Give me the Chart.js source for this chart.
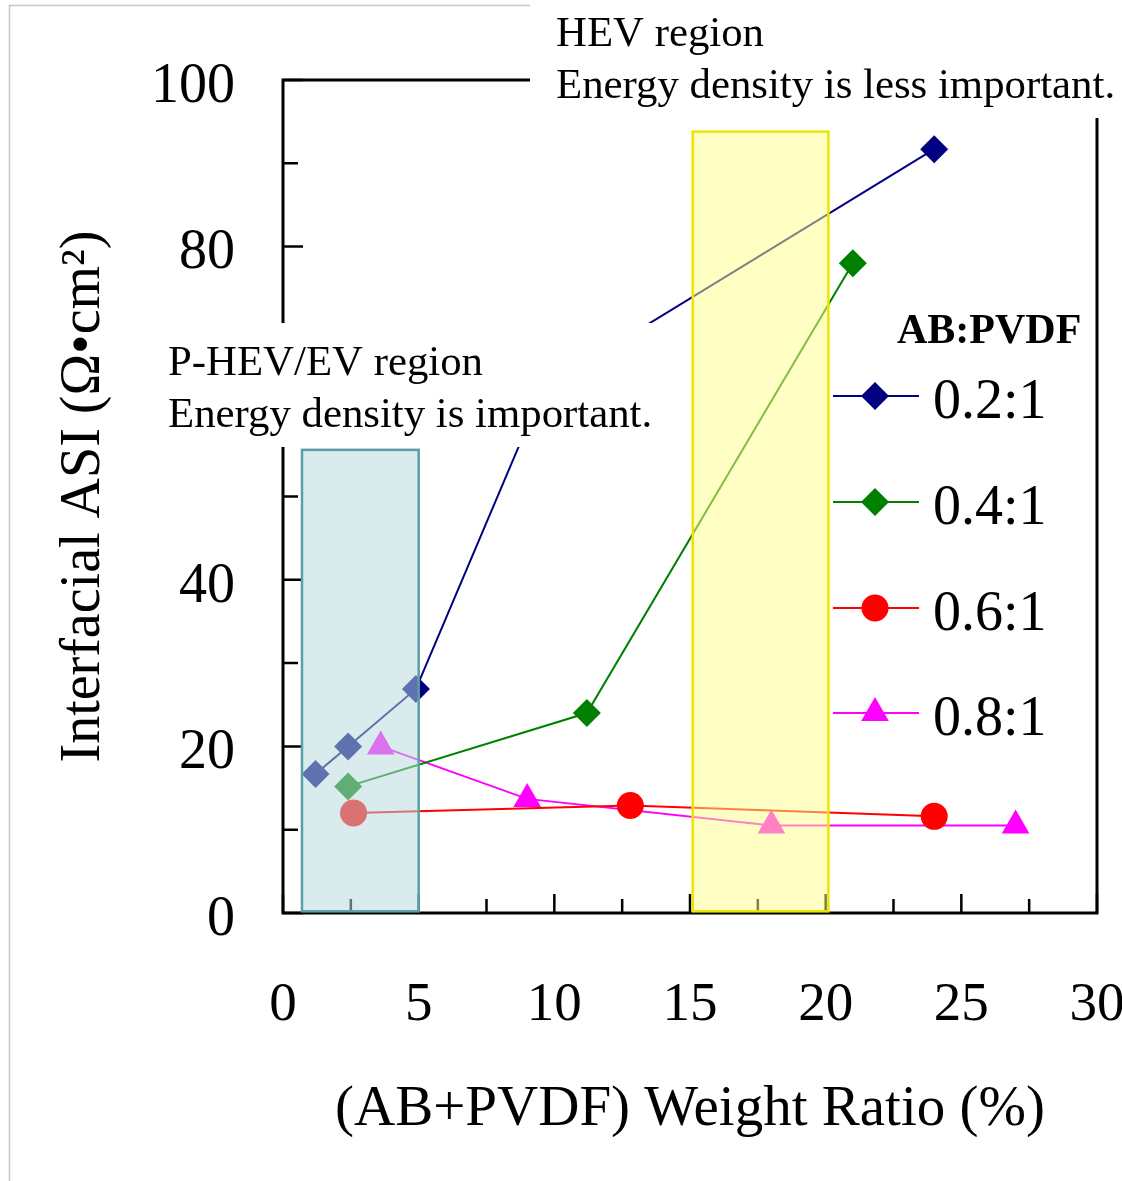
<!DOCTYPE html>
<html>
<head>
<meta charset="utf-8">
<script src="https://cdn.jsdelivr.net/npm/chart.js@4.4.0/dist/chart.umd.min.js"></script>
<style>
  html, body { margin: 0; padding: 0; background: #fff; }
  canvas { display: block; }
</style>
</head>
<body>
<canvas id="asiChart" width="1122" height="1181"></canvas>
<script>
// AB:PVDF series, x = (AB+PVDF) weight ratio %, y = interfacial ASI
const seriesLabels = ['0.2:1', '0.4:1', '0.6:1', '0.8:1'];
const ratio02X = [1.2, 2.4, 4.9, 9.6, 24.0];
const ratio02Y = [16.7, 20.0, 26.9, 63.0, 91.7];
const ratio04X = [2.4, 11.2, 21.0];
const ratio04Y = [15.2, 24.0, 78.0];
const ratio06X = [2.6, 12.8, 24.0];
const ratio06Y = [12.0, 12.9, 11.6];
const ratio08X = [3.6, 9.0, 18.0, 27.0];
const ratio08Y = [20.0, 13.7, 10.5, 10.5];

const xTicks = [0, 5, 10, 15, 20, 25, 30];
const xMinorTicks = [2.5, 7.5, 12.5, 17.5, 22.5, 27.5];
const yTicks = [0, 20, 40, 60, 80, 100];
const yMinorTicks = [10, 30, 50, 70, 90];

// shaded regions (data units)
const phevRangeX = [0.7, 5.0];
const phevTopY = 55.6;
const hevRangeX = [15.1, 20.1];
const hevTopY = 93.8;
const regionBottomY = 0.2;

const legendTitle = 'AB:PVDF';
const notes = [
    { lines: ['HEV region', 'Energy density is less important.'], box: [530, 0, 592, 118], x: 556, baselines: [46, 98] },
    { lines: ['P-HEV/EV region', 'Energy density is important.'], box: [160, 323, 500, 124], x: 168, baselines: [375, 427] }
];
const legendRowY = [396, 502, 608, 713];

const SERIF = '"Liberation Serif", "Times New Roman", serif';
Chart.defaults.font.family = SERIF;
Chart.defaults.color = '#000';

const toPoints = (xs, ys) => xs.map((x, i) => ({ x: x, y: ys[i] }));

function makeSeries(label, xs, ys, color, style, radius) {
    return {
        label: label,
        data: toPoints(xs, ys),
        showLine: true,
        borderColor: color,
        backgroundColor: color,
        borderWidth: 2,
        pointStyle: style,
        pointRadius: radius,
        pointHoverRadius: radius,
        pointBorderWidth: 0,
        clip: false
    };
}

function drawRegion(ctx, x, y, range, top, fill, stroke) {
    const left = x.getPixelForValue(range[0]);
    const right = x.getPixelForValue(range[1]);
    const t = y.getPixelForValue(top);
    const b = y.getPixelForValue(regionBottomY);
    ctx.save();
    ctx.fillStyle = fill;
    ctx.fillRect(left, t, right - left, b - t);
    ctx.strokeStyle = stroke;
    ctx.lineWidth = 2.5;
    ctx.strokeRect(left, t, right - left, b - t);
    ctx.restore();
}

// tick label padding would otherwise be added to the side margins
function noSidePadding(s) {
    s.paddingLeft = 0;
    s.paddingRight = 0;
    s.paddingTop = 0;
    s.paddingBottom = 0;
}

const frameAndTicks = {
    id: 'frameAndTicks',
    beforeDatasetsDraw(chart) {
        const { ctx, chartArea: a, scales: { x, y } } = chart;
        ctx.save();
        // thin gray page border
        ctx.strokeStyle = '#c8c8c8';
        ctx.lineWidth = 1.5;
        ctx.beginPath();
        ctx.moveTo(9.5, 1181);
        ctx.lineTo(9.5, 5.5);
        ctx.lineTo(540, 5.5);
        ctx.stroke();

        ctx.strokeStyle = '#000';
        ctx.lineWidth = 3;
        ctx.strokeRect(a.left, a.top, a.right - a.left, a.bottom - a.top);

        ctx.lineWidth = 2.5;
        ctx.beginPath();
        xTicks.forEach(v => {
            const px = x.getPixelForValue(v);
            ctx.moveTo(px, a.bottom);
            ctx.lineTo(px, a.bottom - 19);
        });
        xMinorTicks.forEach(v => {
            const px = x.getPixelForValue(v);
            ctx.moveTo(px, a.bottom);
            ctx.lineTo(px, a.bottom - 14);
        });
        yTicks.forEach(v => {
            const py = y.getPixelForValue(v);
            ctx.moveTo(a.left, py);
            ctx.lineTo(a.left + 20, py);
        });
        yMinorTicks.forEach(v => {
            const py = y.getPixelForValue(v);
            ctx.moveTo(a.left, py);
            ctx.lineTo(a.left + 15, py);
        });
        ctx.stroke();
        ctx.restore();
    },
    afterDatasetsDraw(chart) {
        const { ctx, scales: { x, y } } = chart;
        drawRegion(ctx, x, y, phevRangeX, phevTopY, 'rgba(185,216,221,0.52)', '#5b9fa6');
        drawRegion(ctx, x, y, hevRangeX, hevTopY, 'rgba(255,255,137,0.5)', '#eee400');
    },
    afterDraw(chart) {
        const ctx = chart.ctx;
        ctx.save();
        // region notes sit on white boxes that hide what is behind them
        notes.forEach(n => {
            ctx.fillStyle = '#fff';
            ctx.fillRect(n.box[0], n.box[1], n.box[2], n.box[3]);
            ctx.fillStyle = '#000';
            ctx.font = '42.8px ' + SERIF;
            ctx.textBaseline = 'alphabetic';
            n.lines.forEach((t, i) => ctx.fillText(t, n.x, n.baselines[i]));
        });

        // legend
        ctx.font = 'bold 42px ' + SERIF;
        ctx.fillText(legendTitle, 897, 343);
        chart.data.datasets.forEach((ds, i) => {
            const yy = legendRowY[i];
            ctx.strokeStyle = ds.borderColor;
            ctx.lineWidth = 2;
            ctx.beginPath();
            ctx.moveTo(833, yy);
            ctx.lineTo(919, yy);
            ctx.stroke();
            ctx.fillStyle = ds.backgroundColor;
            Chart.helpers.drawPoint(ctx, { pointStyle: ds.pointStyle, radius: ds.pointRadius, rotation: 0, borderWidth: 0 }, 875, yy);
            ctx.fillStyle = '#000';
            ctx.font = '56px ' + SERIF;
            ctx.fillText(ds.label, 933, yy + 22);
        });
        ctx.restore();
    }
};

new Chart(document.getElementById('asiChart'), {
    type: 'scatter',
    data: {
        datasets: [
            makeSeries(seriesLabels[0], ratio02X, ratio02Y, '#000080', 'rectRot', 14),
            makeSeries(seriesLabels[1], ratio04X, ratio04Y, '#008000', 'rectRot', 14),
            makeSeries(seriesLabels[2], ratio06X, ratio06Y, '#ff0000', 'circle', 13.5),
            makeSeries(seriesLabels[3], ratio08X, ratio08Y, '#ff00ff', 'triangle', 16)
        ]
    },
    options: {
        responsive: false,
        animation: false,
        events: [],
        layout: { padding: { top: 80, right: 25, left: 0, bottom: 0 } },
        plugins: {
            legend: { display: false },
            tooltip: { enabled: false }
        },
        scales: {
            x: {
                type: 'linear',
                min: 0,
                max: 30,
                afterBuildTicks: s => { s.ticks = xTicks.map(v => ({ value: v })); },
                afterFit: s => { s.height = 268; noSidePadding(s); },
                grid: { display: false, drawTicks: false, tickLength: 0 },
                border: { display: false },
                ticks: { color: '#000', font: { size: 55 }, padding: 60, maxRotation: 0, autoSkip: false },
                title: {
                    display: true,
                    text: '(AB+PVDF) Weight Ratio (%)',
                    color: '#000',
                    font: { size: 57 },
                    padding: { top: 0, bottom: 37 }
                }
            },
            y: {
                type: 'linear',
                min: 0,
                max: 100,
                afterBuildTicks: s => { s.ticks = yTicks.map(v => ({ value: v })); },
                afterFit: s => { s.width = 283; noSidePadding(s); },
                grid: { display: false, drawTicks: false, tickLength: 0 },
                border: { display: false },
                ticks: { color: '#000', font: { size: 56 }, padding: 48, labelOffset: 7, autoSkip: false },
                title: {
                    display: true,
                    text: 'Interfacial ASI (Ω•cm²)',
                    color: '#000',
                    font: { size: 56 },
                    padding: { top: 51, bottom: 0 }
                }
            }
        }
    },
    plugins: [frameAndTicks]
});
</script>
</body>
</html>
